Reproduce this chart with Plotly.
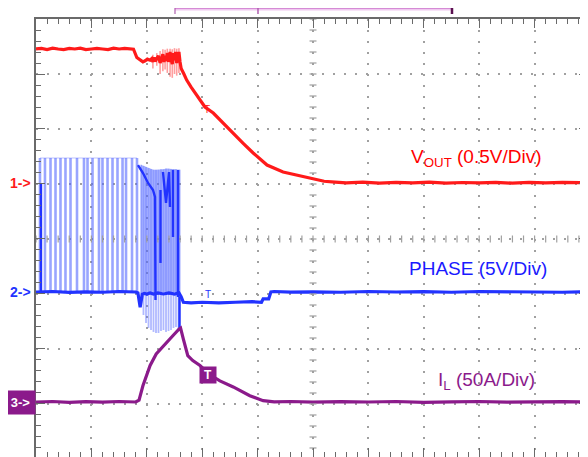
import plotly.graph_objects as go

# ---------------- screen geometry (oscilloscope divisions) ----------------
X_MAX = 9.964            # visible part of the 10 horizontal divisions
Y_MIN, Y_MAX = -3.964, 4.0

# channel ground markers (div)
ch_names = ["1->", "2->", "3->"]
ch_levels = [1.018, -0.964, -2.964]
ch_colors = ["#ff1a1a", "#2233ff", "#8b1a8b"]

# ---------------- CH1: VOUT (0.5 V/div) ----------------
vout_x = [0.00, 0.10, 0.20, 0.30, 0.40, 0.50, 0.60, 0.70, 0.80, 0.90, 1.00, 1.10, 1.20,
          1.30, 1.40, 1.50, 1.60, 1.70, 1.76,
          1.82, 1.88, 1.93, 1.97, 2.01, 2.06, 2.09, 2.11, 2.13, 2.15, 2.18, 2.21, 2.24,
          2.26, 2.29, 2.31, 2.33, 2.35, 2.37, 2.39, 2.42, 2.44, 2.46, 2.48, 2.50, 2.52,
          2.54, 2.56, 2.58, 2.60, 2.62,
          2.67, 2.72, 2.80, 2.96, 3.05, 3.20, 3.38, 3.56, 3.74, 3.92, 4.17, 4.46, 4.77,
          5.00, 5.20, 5.40, 5.60, 5.90, 6.20, 6.50, 6.80, 7.10, 7.40, 7.70, 8.00, 8.30,
          8.60, 8.90, 9.20, 9.50, 9.80, 9.964]
vout_y = [3.455, 3.464, 3.445, 3.470, 3.455, 3.445, 3.464, 3.455, 3.470, 3.445, 3.455,
          3.464, 3.455, 3.445, 3.470, 3.455, 3.464, 3.455, 3.450,
          3.30, 3.25, 3.22, 3.24, 3.27, 3.25, 3.28, 3.22, 3.30, 3.23, 3.27, 3.33, 3.20,
          3.27, 3.36, 3.22, 3.33, 3.24, 3.38, 3.22, 3.40, 3.26, 3.18, 3.38, 3.25, 3.40,
          3.20, 3.30, 3.40, 3.22, 3.10,
          3.00, 2.89, 2.76, 2.527, 2.40, 2.29, 2.10, 1.927, 1.74, 1.564, 1.345, 1.218,
          1.145, 1.09, 1.05, 1.035, 1.020, 1.035, 1.015, 1.030, 1.020, 1.035, 1.015,
          1.027, 1.020, 1.030, 1.015, 1.030, 1.020, 1.030, 1.018, 1.025]
# faint ringing spikes on VOUT during the fault (x, low, high)
vout_spike_x = [2.11, 2.18, 2.24, 2.29, 2.33, 2.37, 2.42, 2.46, 2.50, 2.54, 2.58]
vout_spike_lo = [3.10, 3.15, 3.00, 3.05, 3.08, 3.02, 2.95, 2.93, 3.00, 2.97, 3.02]
vout_spike_hi = [3.35, 3.38, 3.42, 3.45, 3.44, 3.46, 3.46, 3.45, 3.47, 3.46, 3.47]

# ---------------- CH2: PHASE (5 V/div) ----------------
phase_x = [0.00, 0.30, 0.60, 0.90, 1.20, 1.50, 1.80, 1.84, 1.88, 1.92, 1.96, 2.00, 2.06,
           2.12, 2.20, 2.30, 2.40, 2.50, 2.58, 2.62, 2.66, 2.80, 3.00, 3.30, 3.60, 3.90,
           4.07, 4.10, 4.20, 4.24, 4.30, 4.60, 5.00, 5.50, 6.00, 6.50, 7.00, 7.50, 8.00,
           8.50, 9.00, 9.50, 9.964]
phase_y = [-0.964, -0.955, -0.970, -0.960, -0.968, -0.955, -0.964, -0.980, -1.240, -1.000,
           -0.990, -1.000, -0.980, -1.000, -0.980, -1.000, -0.980, -1.000, -0.980, -1.050,
           -1.150, -1.160, -1.150, -1.160, -1.150, -1.140, -1.150, -1.090, -1.090, -0.964,
           -0.955, -0.965, -0.960, -0.968, -0.955, -0.964, -0.958, -0.968, -0.955, -0.964,
           -0.960, -0.968, -0.960]
# switching pulses before the fault (top level, div)
pulse_a_x = [0.072, 0.162, 0.262, 0.352, 0.442, 0.532, 0.623, 0.740, 0.866, 0.930, 1.020,
             1.137, 1.200, 1.291, 1.381, 1.471, 1.562, 1.625, 1.733, 1.823]
pulse_a_top = 1.473
# burst of pulses during the fault
pulse_b_x = [1.895, 1.940, 1.986, 2.031, 2.076, 2.121, 2.166, 2.211, 2.256, 2.301, 2.347,
             2.392, 2.437, 2.482, 2.527, 2.572, 2.595]
pulse_b_top = [1.35, 1.33, 1.31, 1.29, 1.27, 1.26, 1.26, 1.26, 1.27, 1.27, 1.28, 1.28,
               1.27, 1.27, 1.27, 1.26, 1.26]
pulse_b_bot = [-1.20, -1.382, -1.527, -1.618, -1.655, -1.690, -1.709, -1.709, -1.673,
               -1.655, -1.690, -1.673, -1.655, -1.618, -1.600, -1.655, -1.62]
# dense (dark) traces inside the burst
burst_dark_x = [0.09, 0.09, None,
                1.841, 1.931, 2.022, 2.112, 2.148, 2.157, None,
                2.247, 2.247, None,
                2.292, 2.347, 2.401, 2.419, None,
                2.473, 2.473, None,
                2.563, 2.563, None,
                2.590, 2.590]
burst_dark_y = [-0.964, 1.018, None,
                1.345, 1.200, 1.018, 0.891, 0.764, -1.109, None,
                0.891, -0.436, None,
                1.218, 0.655, 1.218, 0.582, None,
                1.255, 0.036, None,
                1.255, -1.055, None,
                -1.055, -1.618]

# ---------------- CH3: IL (50 A/div) ----------------
il_x = [0.00, 0.30, 0.60, 0.90, 1.20, 1.50, 1.80, 1.86, 1.93, 2.06, 2.17, 2.36, 2.47, 2.58,
        2.61, 2.66, 2.74, 2.83, 2.96, 3.14, 3.32, 3.56, 3.86, 4.10, 4.30, 4.60, 5.00, 5.50,
        6.00, 6.50, 7.00, 7.50, 8.00, 8.50, 9.00, 9.50, 9.964]
il_y = [-2.964, -2.955, -2.970, -2.958, -2.968, -2.955, -2.964, -2.930, -2.670, -2.300,
        -2.090, -1.870, -1.760, -1.640, -1.620, -1.820, -2.120, -2.210, -2.300, -2.470,
        -2.580, -2.690, -2.850, -2.940, -2.960, -2.955, -2.968, -2.958, -2.964, -2.955,
        -2.970, -2.960, -2.955, -2.968, -2.960, -2.958, -2.964]

# trigger bracket on top (div)
bracket_x = [2.509, 7.509]
trigger_x = 4.007

RED, BLUE, PURPLE = "#ff1a1a", "#2233ff", "#8b1a8b"
PULSE_LIGHT = "rgba(80,100,255,0.58)"
FONT = "Liberation Sans, Arial"

# page body has an 8px default margin: figure is sized / offset to compensate
FIG_W, FIG_H = 580, 449
M_L, M_T = 28, 11
PLOT_W, PLOT_H = FIG_W - M_L, FIG_H - M_T

fig = go.Figure()

# light switching pulses (region A)
pax, pay = [], []
for px in pulse_a_x:
    pax += [px, px, None]
    pay += [ch_levels[1], pulse_a_top, None]
fig.add_trace(go.Scatter(x=pax, y=pay, mode="lines",
                         line=dict(color=PULSE_LIGHT, width=2.6), hoverinfo="skip"))
fig.add_trace(go.Scatter(x=[pulse_a_x[0], pulse_a_x[-1]], y=[pulse_a_top, pulse_a_top],
                         mode="lines", line=dict(color="rgba(80,100,255,0.25)", width=1.5),
                         hoverinfo="skip"))

# burst envelope (region B) as a filled band, plus individual up/down pulses
env_x = [pulse_b_x[0]] + pulse_b_x + [pulse_b_x[-1]]
env_y = [ch_levels[1]] + pulse_b_top + [ch_levels[1]]
fig.add_trace(go.Scatter(x=env_x, y=env_y, mode="lines", fill="toself",
                         fillcolor="rgba(80,100,255,0.45)", line=dict(width=0),
                         hoverinfo="skip"))
pbx, pby = [], []
for px, t in zip(pulse_b_x, pulse_b_top):
    pbx += [px, px, None]
    pby += [ch_levels[1], t, None]
fig.add_trace(go.Scatter(x=pbx, y=pby, mode="lines",
                         line=dict(color="rgba(80,100,255,0.35)", width=2.0), hoverinfo="skip"))
pdx, pdy = [], []
for px, b in zip(pulse_b_x, pulse_b_bot):
    pdx += [px, px, None]
    pdy += [ch_levels[1], b, None]
fig.add_trace(go.Scatter(x=pdx, y=pdy, mode="lines",
                         line=dict(color="rgba(80,100,255,0.45)", width=1.8), hoverinfo="skip"))

fig.add_trace(go.Scatter(x=burst_dark_x, y=burst_dark_y, mode="lines",
                         line=dict(color=BLUE, width=2.4), hoverinfo="skip"))
fig.add_trace(go.Scatter(x=phase_x, y=phase_y, mode="lines",
                         line=dict(color=BLUE, width=3.2), hoverinfo="skip"))

fig.add_trace(go.Scatter(x=il_x, y=il_y, mode="lines",
                         line=dict(color=PURPLE, width=3.2), hoverinfo="skip"))

# faint VOUT ringing
vsx, vsy = [], []
for sx, lo, hi in zip(vout_spike_x, vout_spike_lo, vout_spike_hi):
    vsx += [sx, sx, None]
    vsy += [lo, hi, None]
fig.add_trace(go.Scatter(x=vsx, y=vsy, mode="lines",
                         line=dict(color="rgba(255,40,40,0.45)", width=1.6), hoverinfo="skip"))
fig.add_trace(go.Scatter(x=vout_x, y=vout_y, mode="lines",
                         line=dict(color=RED, width=3.2), hoverinfo="skip"))

# centre-line graticule ticks
cx = [i * 0.2 for i in range(0, 50)]
cy = [Y_MIN + 0.164 + i * 0.2 for i in range(0, 40)]
fig.add_trace(go.Scatter(x=[5.0] * len(cy), y=cy, mode="markers",
                         marker=dict(symbol="line-ew-open", size=5, color="#a0a0a0",
                                     line=dict(color="#a0a0a0", width=1.2)),
                         hoverinfo="skip"))
fig.add_trace(go.Scatter(x=cx, y=[0.0] * len(cx), mode="markers",
                         marker=dict(symbol="line-ns-open", size=5, color="#a0a0a0",
                                     line=dict(color="#a0a0a0", width=1.2)),
                         hoverinfo="skip"))

def px_x(v):
    return v / X_MAX

def px_y(v):
    return (v - Y_MIN) / (Y_MAX - Y_MIN)

annotations = [
    dict(x=7.96, y=1.47, xref="x", yref="y", text="V<sub>OUT</sub> (0.5V/Div)",
         showarrow=False, font=dict(family=FONT, size=19, color="#ff0000")),
    dict(x=7.97, y=-0.545, xref="x", yref="y", text="PHASE (5V/Div)",
         showarrow=False, font=dict(family=FONT, size=19, color="#1a1aff")),
    dict(x=8.13, y=-2.58, xref="x", yref="y", text="I<sub>L</sub> (50A/Div)",
         showarrow=False, font=dict(family=FONT, size=19, color=PURPLE)),
    # trigger box on IL
    dict(x=3.10, y=-2.47, xref="x", yref="y", text="<b>T</b>", showarrow=False,
         bgcolor=PURPLE, width=14, height=14, borderpad=1,
         font=dict(family=FONT, size=12, color="#ffffff")),
    dict(x=3.10, y=-1.01, xref="x", yref="y", text="T", showarrow=False,
         font=dict(family=FONT, size=10, color=BLUE)),
    dict(x=3.08, y=2.36, xref="x", yref="y", text="T", showarrow=False,
         font=dict(family=FONT, size=10, color=RED)),
]
for i, (nm, lv, col) in enumerate(zip(ch_names, ch_levels, ch_colors)):
    if i < 2:
        annotations.append(dict(x=-3.0 / PLOT_W, y=px_y(lv), xref="paper", yref="paper",
                                text="<b>" + nm + "</b>", showarrow=False,
                                xanchor="right", yanchor="middle",
                                font=dict(family=FONT, size=14, color=col)))
    else:
        annotations.append(dict(x=0.0, y=px_y(lv), xref="paper", yref="paper",
                                text="<b>" + nm + "</b>", showarrow=False,
                                xanchor="right", yanchor="middle",
                                bgcolor=col, width=29, height=23, borderpad=0,
                                font=dict(family=FONT, size=13, color="#ffffff")))

by = 1 + 11.0 / PLOT_H
dy = 1.0 / PLOT_H
dx = 1.0 / PLOT_W
shapes = [
    dict(type="line", xref="paper", yref="paper", x0=px_x(bracket_x[0]), x1=px_x(bracket_x[1]),
         y0=by, y1=by, line=dict(color="#f0c8f0", width=5)),
    dict(type="line", xref="paper", yref="paper", x0=px_x(bracket_x[0]), x1=px_x(bracket_x[1]),
         y0=by, y1=by, line=dict(color="#cc77cc", width=1.5)),
    dict(type="line", xref="paper", yref="paper", x0=px_x(bracket_x[0]), x1=px_x(bracket_x[0]),
         y0=by - 6 * dy, y1=by + 5 * dy, line=dict(color="#b060b0", width=1.2)),
    dict(type="line", xref="paper", yref="paper", x0=px_x(bracket_x[1]), x1=px_x(bracket_x[1]),
         y0=by - 6 * dy, y1=by + 5 * dy, line=dict(color="#5a1050", width=2.5)),
    dict(type="line", xref="paper", yref="paper", x0=px_x(trigger_x), x1=px_x(trigger_x),
         y0=by - 6 * dy, y1=by + 4 * dy, line=dict(color="#b060b0", width=1.5)),
    dict(type="line", xref="paper", yref="paper", x0=px_x(trigger_x) - 4 * dx,
         x1=px_x(trigger_x) + 4 * dx, y0=by + 4 * dy, y1=by + 4 * dy,
         line=dict(color="#b060b0", width=1.5)),
]

axis_common = dict(showticklabels=False, zeroline=False, showline=True, linecolor="#6a6a6a",
                   linewidth=1.5, mirror="allticks", ticks="inside", ticklen=9,
                   tickcolor="#6a6a6a", tickwidth=1.3, dtick=1, showgrid=True,
                   gridcolor="#a0a0a0", gridwidth=1.6, griddash="2px,9px")

fig.update_layout(
    width=FIG_W, height=FIG_H, margin=dict(l=M_L, r=0, t=M_T, b=0, autoexpand=False),
    paper_bgcolor="white", plot_bgcolor="white", showlegend=False,
    xaxis=dict(range=[0, X_MAX], tick0=0,
               minor=dict(dtick=0.2, tick0=0, ticks="inside", ticklen=5, tickcolor="#6a6a6a",
                          tickwidth=1.2, showgrid=False), **axis_common),
    yaxis=dict(range=[Y_MIN, Y_MAX], tick0=0,
               minor=dict(dtick=0.2, tick0=0, ticks="inside", ticklen=5, tickcolor="#6a6a6a",
                          tickwidth=1.2, showgrid=False), **axis_common),
    annotations=annotations, shapes=shapes,
)

fig.write_html("out.html")
